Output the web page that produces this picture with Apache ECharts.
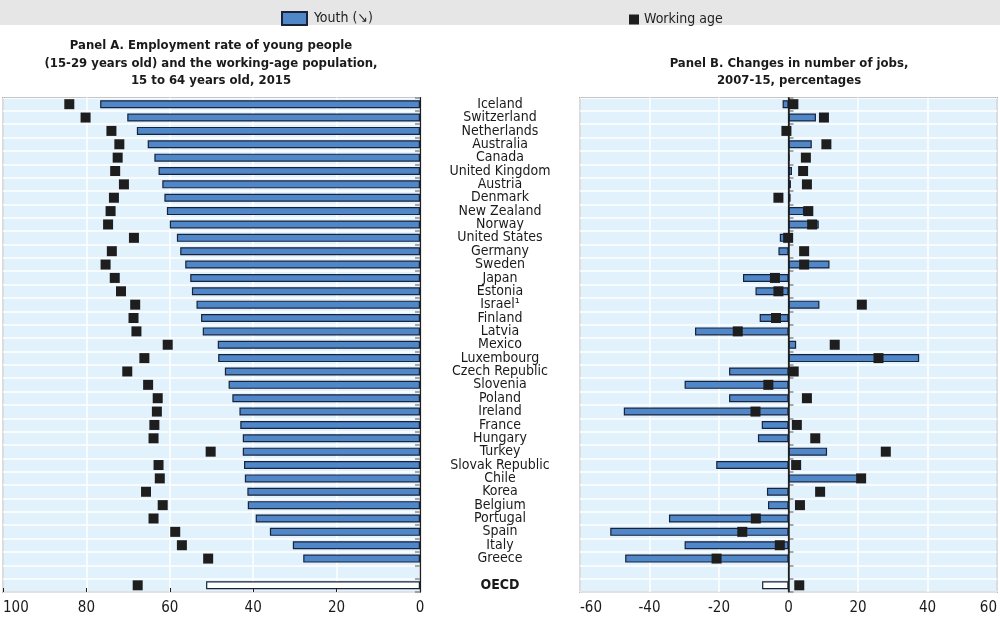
<!DOCTYPE html>
<html><head><meta charset="utf-8">
<script src="https://cdn.jsdelivr.net/npm/echarts@6/dist/echarts.min.js"></script>
<style>html,body{margin:0;padding:0;background:#fff}#c{width:1000px;height:620px}</style>
</head><body><div id="c"></div>
<script>
const categories = ['Iceland','Switzerland','Netherlands','Australia','Canada','United Kingdom','Austria','Denmark','New Zealand','Norway','United States','Germany','Sweden','Japan','Estonia','Israel\u00b9','Finland','Latvia','Mexico','Luxembourg','Czech Republic','Slovenia','Poland','Ireland','France','Hungary','Turkey','Slovak Republic','Chile','Korea','Belgium','Portugal','Spain','Italy','Greece','','OECD'];
const youthRate = [76.7,70.2,67.9,65.3,63.7,62.7,61.8,61.3,60.7,60.0,58.3,57.5,56.3,55.1,54.7,53.6,52.5,52.1,48.5,48.4,46.8,45.9,45.0,43.3,43.1,42.5,42.5,42.2,42.0,41.4,41.3,39.4,36.0,30.5,28.0,'-',51.3];
const workingRate = [84.1,80.2,74.0,72.1,72.5,73.1,71.0,73.4,74.2,74.8,68.6,73.9,75.4,73.2,71.7,68.3,68.7,68.0,60.5,66.1,70.2,65.2,62.9,63.1,63.7,63.9,50.2,62.7,62.4,65.7,61.7,63.9,58.7,57.1,50.8,'-',67.7];
const youthJobs = [-1.7,7.9,-0.5,6.7,0.3,1.0,0.7,0.6,4.5,8.7,-2.5,-2.9,11.8,-13.1,-9.5,8.9,-8.3,-26.9,2.2,37.6,-17.1,-29.9,-17.1,-47.4,-7.7,-8.8,11.1,-20.8,20.2,-6.2,-5.9,-34.4,-51.3,-29.9,-47.0,'-',-7.6];
const workingJobs = [1.4,10.2,-0.6,10.9,5.0,4.2,5.3,-2.9,5.7,6.8,-0.1,4.5,4.5,-3.9,-2.9,21.1,-3.6,-14.6,13.3,25.9,1.5,-5.8,5.3,-9.5,2.4,7.7,28.0,2.2,20.9,9.1,3.3,-9.4,-13.3,-2.5,-20.7,'-',3.1];
const leftTicks = [0,20,40,60,80,100];
const rightTicks = [-60,-40,-20,0,20,40,60];

const FONT = "'Liberation Sans Narrow','DejaVu Sans Condensed','Roboto Condensed',sans-serif";
const BLUE = '#4f87c8', EDGE = '#18223a', DARK = '#1e1e1e', BG = '#e2f2fc';

function barData(arr){
  return arr.map((v,i)=> categories[i]==='OECD' ? {value:v, itemStyle:{color:'#ffffff'}} : v);
}

const chart = echarts.init(document.getElementById('c'), null, {renderer:'canvas'});
const gridTop = 97.5, gridH = 494.5;
const option = {
  animation:false,
  textStyle:{fontFamily:FONT},
  graphic:[
    {type:'rect', shape:{x:0,y:0,width:1000,height:25}, style:{fill:'#e6e6e6'}, z:-10},
    {type:'text', x:211, y:37, style:{text:'Panel A. Employment rate of young people\n(15-29 years old) and the working-age population,\n15 to 64 years old, 2015', textAlign:'center', font:'bold 13px '+FONT, fill:'#1a1a1a', lineHeight:17.5}},
    {type:'text', x:789, y:54.5, style:{text:'Panel B. Changes in number of jobs,\n2007-15, percentages', textAlign:'center', font:'bold 13px '+FONT, fill:'#1a1a1a', lineHeight:17.5}}
  ],
  legend:[
    {data:['Youth (\u2198)'], left:276, top:6, itemWidth:25, itemHeight:13, itemGap:0, icon:'rect', textStyle:{fontFamily:FONT, fontSize:14, color:'#222', padding:[0,0,0,2]}},
    {data:['Working age'], left:624, top:7.5, itemWidth:10, itemHeight:10, icon:'rect', textStyle:{fontFamily:FONT, fontSize:14, color:'#222', padding:[0,0,0,0]}}
  ],
  grid:[
    {left:2, top:gridTop, width:418, height:gridH, show:true, backgroundColor:BG, borderColor:DARK, borderWidth:1.2, containLabel:false},
    {left:580, top:gridTop, width:418, height:gridH, show:true, backgroundColor:BG, borderColor:DARK, borderWidth:1.2, containLabel:false}
  ],
  xAxis:[
    {type:'value', gridIndex:0, inverse:true, min:leftTicks[0], max:leftTicks[leftTicks.length-1], interval:20,
     axisLine:{show:false}, axisTick:{show:true, inside:true, length:4, lineStyle:{color:DARK}},
     splitLine:{show:true, lineStyle:{color:'#ffffff', width:1.5}},
     axisLabel:{fontFamily:FONT, fontSize:15, color:'#1a1a1a', margin:9, alignMaxLabel:'left'}},
    {type:'value', gridIndex:1, min:rightTicks[0], max:rightTicks[rightTicks.length-1], interval:20,
     axisLine:{show:false}, axisTick:{show:false},
     splitLine:{show:true, lineStyle:{color:'#ffffff', width:1.5}},
     axisLabel:{fontFamily:FONT, fontSize:15, color:'#1a1a1a', margin:9, alignMinLabel:'left', alignMaxLabel:'right'}}
  ],
  yAxis:[
    {type:'category', gridIndex:0, data:categories, inverse:true, position:'right',
     axisLine:{show:true, lineStyle:{color:DARK, width:1.2}},
     axisTick:{show:true, inside:true, length:5, interval:0, lineStyle:{color:'#8a8a8a', width:1.5}},
     axisLabel:{show:false},
     splitLine:{show:true, interval:0, lineStyle:{color:'#ffffff', width:1.5}}},
    {type:'category', gridIndex:1, data:categories, inverse:true, position:'left',
     axisLine:{show:true, lineStyle:{color:DARK, width:1.2}},
     axisTick:{show:true, inside:true, length:5, interval:0, lineStyle:{color:'#8a8a8a', width:1.5}},
     axisLabel:{show:true, interval:0, align:'center', margin:80, fontFamily:FONT, fontSize:14, color:'#1a1a1a',
       formatter:(v)=> v==='OECD' ? '{b|OECD}' : v,
       rich:{b:{fontWeight:'bold', fontFamily:FONT, fontSize:14, color:'#1a1a1a'}}},
     splitLine:{show:true, interval:0, lineStyle:{color:'#ffffff', width:1.5}}}
  ],
  series:[
    {name:'Youth (\u2198)', type:'bar', xAxisIndex:0, yAxisIndex:0, data:barData(youthRate), barWidth:8,
     itemStyle:{color:BLUE, borderColor:EDGE, borderWidth:1.2}, z:3},
    {name:'Working age', type:'scatter', xAxisIndex:0, yAxisIndex:0, data:workingRate, symbol:'rect', symbolSize:10,
     itemStyle:{color:DARK, opacity:1}, z:5},
    {name:'Youth (\u2198)', type:'bar', xAxisIndex:1, yAxisIndex:1, data:barData(youthJobs), barWidth:8,
     itemStyle:{color:BLUE, borderColor:EDGE, borderWidth:1.2}, z:3,
     markLine:{silent:true, symbol:'none', label:{show:false}, lineStyle:{color:DARK, type:'solid', width:1.5}, data:[{xAxis:0}]}},
    {name:'Working age', type:'scatter', xAxisIndex:1, yAxisIndex:1, data:workingJobs, symbol:'rect', symbolSize:10,
     itemStyle:{color:DARK, opacity:1}, z:5}
  ]
};
chart.setOption(option);
</script>
</body></html>
